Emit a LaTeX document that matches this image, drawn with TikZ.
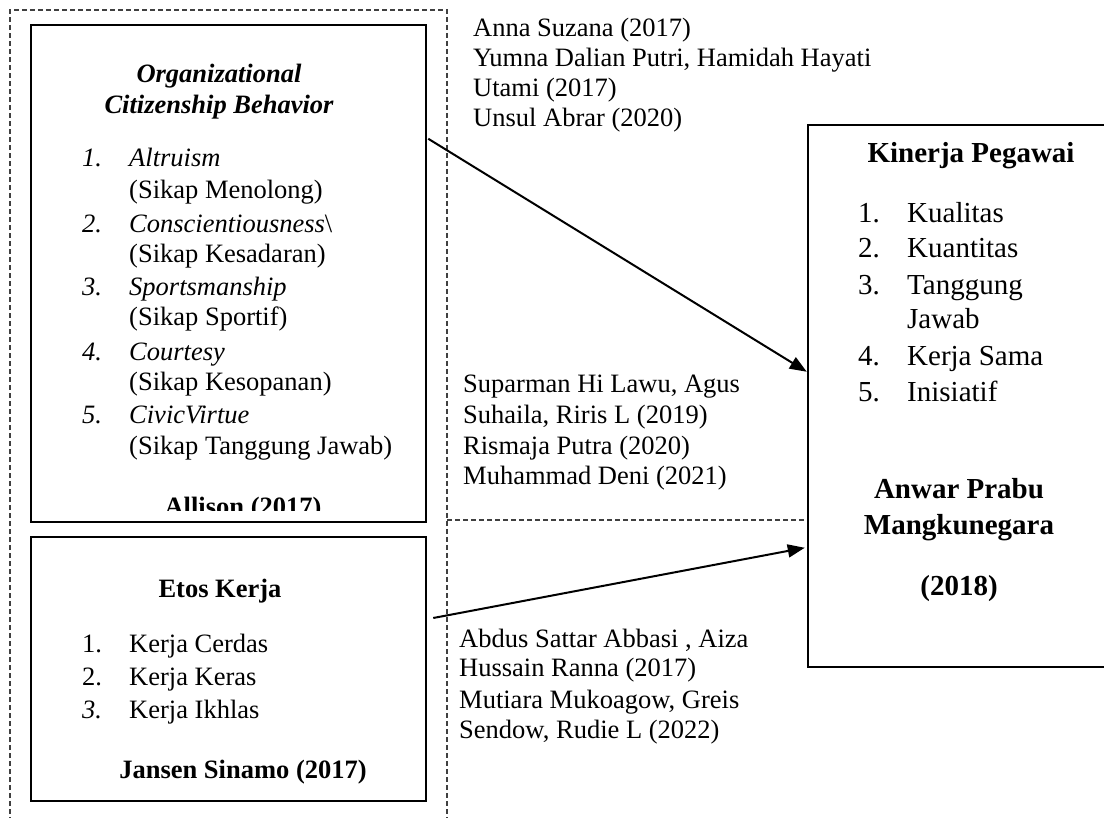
\documentclass[tikz,border=0pt]{standalone}
\usepackage{fontspec}
\setmainfont{Liberation Serif}
\usetikzlibrary{arrows.meta,calc}
\begin{document}
\begin{tikzpicture}[x=1pt,y=-1pt,
  box/.style={draw, line width=2.5pt, inner sep=0pt, rectangle},
  txt/.style={inner sep=0pt, anchor=base west, font=\fontsize{26.5}{30}\selectfont},
  ctxt/.style={txt, anchor=base},
  rtxt/.style={inner sep=0pt, anchor=base west, font=\fontsize{29}{34}\selectfont},
  crtxt/.style={rtxt, anchor=base},
  dsh/.style={draw=black!75, line width=1.2pt, dash pattern=on 5pt off 3pt},
  arr/.style={line width=2pt, -{Triangle[length=17pt,width=13pt]}}]
\useasboundingbox (0,0) rectangle (1104,818);
\fill[white] (0,0) rectangle (1104,818);
% outer dashed frame
\draw[dsh] (10,830) -- (10,10) -- (447,10) -- (447,830);
% boxes
\node[box, minimum width=395pt, minimum height=497pt] (ocb) at (228.5,273.5) {};
\node[box, minimum width=395pt, minimum height=264pt] (etos) at (228.5,669) {};
\node[box, minimum width=302pt, minimum height=542pt] (kp) at (959,396) {};
\coordinate (hd) at (447,520);
\draw[dsh] (hd) -- (hd -| kp.west);
% OCB box text
\node[ctxt, font=\fontsize{26.5}{30}\selectfont\bfseries\itshape] (ocbt1) at (219,83) {Organizational};
\node[ctxt, font=\fontsize{26.5}{30}\selectfont\bfseries\itshape] (ocbt2) at (219,114) {Citizenship Behavior};
\node[txt] (o1n) at (82,167) {\itshape 1.};
\node[txt] (o1a) at (129,167) {\itshape Altruism};
\node[txt] (o1b) at (129,199) {(Sikap Menolong)};
\node[txt] (o2n) at (82,233) {\itshape 2.};
\node[txt] (o2a) at (129,233) {{\itshape Conscientiousness}\textbackslash};
\node[txt] (o2b) at (129,263) {(Sikap Kesadaran)};
\node[txt] (o3n) at (82,296) {\itshape 3.};
\node[txt] (o3a) at (129,296) {\itshape Sportsmanship};
\node[txt] (o3b) at (129,326) {(Sikap Sportif)};
\node[txt] (o4n) at (82,361) {\itshape 4.};
\node[txt] (o4a) at (129,361) {\itshape Courtesy};
\node[txt] (o4b) at (129,391) {(Sikap Kesopanan)};
\node[txt] (o5n) at (82,424) {\itshape 5.};
\node[txt] (o5a) at (129,424) {\itshape CivicVirtue};
\node[txt] (o5b) at (129,454) {(Sikap Tanggung Jawab)};
\begin{scope}
\clip (31,25) rectangle (426,510);
\node[ctxt] (allison) at (243,515) {\bfseries Allison (2017)};
\end{scope}
% Etos box text
\node[ctxt, font=\fontsize{26.5}{30}\selectfont\bfseries] (etost) at (220,597) {Etos Kerja};
\node[txt] (e1n) at (82,652) {1.};
\node[txt] (e1a) at (129,652) {Kerja Cerdas};
\node[txt] (e2n) at (82,685) {2.};
\node[txt] (e2a) at (129,685) {Kerja Keras};
\node[txt] (e3n) at (82,718) {\itshape 3.};
\node[txt] (e3a) at (129,718) {Kerja Ikhlas};
\node[ctxt] (jansen) at (243,778) {\bfseries Jansen Sinamo (2017)};
% references, top
\node[txt] (r1) at (473,37) {Anna Suzana (2017)};
\node[txt] (r2) at (473,67) {Yumna Dalian Putri, Hamidah Hayati};
\node[txt] (r3) at (473,97) {Utami (2017)};
\node[txt] (r4) at (473,127) {Unsul Abrar (2020)};
% references, middle
\node[txt] (m1) at (463,393) {Suparman Hi Lawu, Agus};
\node[txt] (m2) at (463,424) {Suhaila, Riris L (2019)};
\node[txt] (m3) at (463,454) {Rismaja Putra (2020)};
\node[txt] (m4) at (463,485) {Muhammad Deni (2021)};
% references, bottom
\node[txt] (b1) at (459,647) {Abdus Sattar Abbasi , Aiza};
\node[txt] (b2) at (459,676) {Hussain Ranna (2017)};
\node[txt] (b3) at (459,708) {Mutiara Mukoagow, Greis};
\node[txt] (b4) at (459,738) {Sendow, Rudie L (2022)};
% Kinerja box text
\node[crtxt, font=\fontsize{29}{34}\selectfont\bfseries] (kpt) at (971,163) {Kinerja Pegawai};
\node[rtxt] (k1n) at (858,223) {1.};
\node[rtxt] (k1a) at (907,223) {Kualitas};
\node[rtxt] (k2n) at (858,258) {2.};
\node[rtxt] (k2a) at (907,258) {Kuantitas};
\node[rtxt] (k3n) at (858,295) {3.};
\node[rtxt] (k3a) at (907,295) {Tanggung};
\node[rtxt] (k3b) at (907,329) {Jawab};
\node[rtxt] (k4n) at (858,366) {4.};
\node[rtxt] (k4a) at (907,366) {Kerja Sama};
\node[rtxt] (k5n) at (858,402) {5.};
\node[rtxt] (k5a) at (907,402) {Inisiatif};
\node[crtxt, font=\fontsize{29}{34}\selectfont\bfseries] (kpa1) at (959,498) {Anwar Prabu};
\node[crtxt, font=\fontsize{29}{34}\selectfont\bfseries] (kpa2) at (959,534) {Mangkunegara};
\node[crtxt, font=\fontsize{29}{34}\selectfont\bfseries] (kpa3) at (959,595) {(2018)};
% arrows
\draw[arr] ($(ocb.north east)+(1,115)$) -- ($(kp.north west)+(0,248)$);
\draw[arr] ($(etos.east)+(6,-51)$) -- ($(kp.north west)+(-2,424)$);
\end{tikzpicture}
\end{document}
